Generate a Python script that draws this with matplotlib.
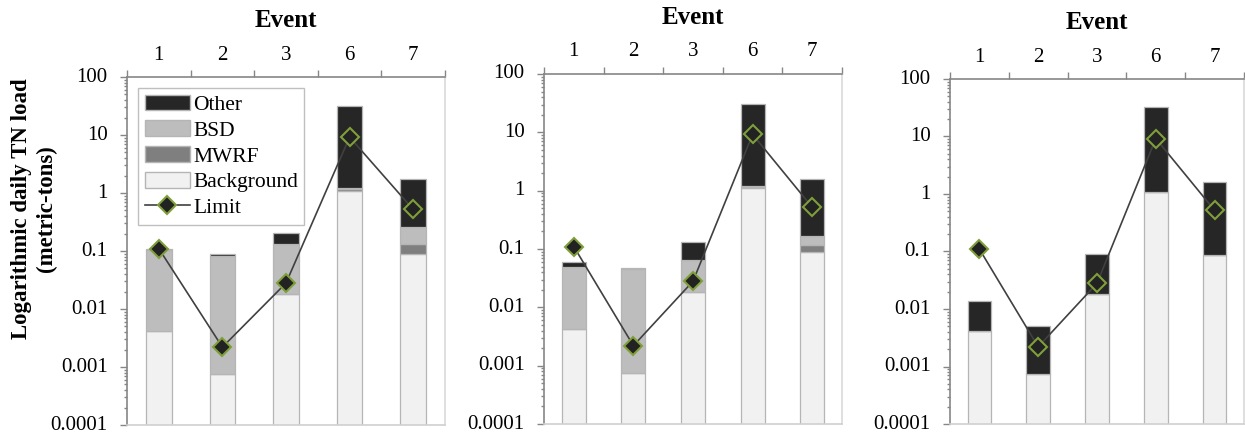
import numpy as np
import matplotlib
matplotlib.use("Agg")
import matplotlib.pyplot as plt
from matplotlib import ticker
from matplotlib.patches import Patch
from matplotlib.lines import Line2D

plt.rcParams['font.family'] = ['Liberation Serif', 'DejaVu Serif']

events = ['1', '2', '3', '6', '7']
limit = [0.11, 0.0022, 0.028, 9.2, 0.52]
background = [0.0042, 0.00075, 0.018, 1.1, 0.088]
y_ticks = [0.0001, 0.001, 0.01, 0.1, 1, 10, 100]
y_labels = ['0.0001', '0.001', '0.01', '0.1', '1', '10', '100']

# left scenario: all sources
mwrf_a = [0.0, 0.0, 0.0, 0.06, 0.044]
bsd_a = [0.101, 0.082, 0.113, 0.06, 0.123]
other_a = [0.005, 0.006, 0.077, 30.8, 1.5]

# middle scenario
mwrf_b = [0.0, 0.0, 0.0, 0.04, 0.028]
bsd_b = [0.044, 0.044, 0.047, 0.04, 0.053]
other_b = [0.0105, 0.003, 0.069, 29.8, 1.41]

# right scenario: no point sources
mwrf_c = [0.0, 0.0, 0.0, 0.0, 0.0]
bsd_c = [0.0, 0.0, 0.0, 0.0, 0.0]
other_c = [0.0096, 0.0044, 0.073, 31.4, 1.52]

scenarios = [(mwrf_a, bsd_a, other_a),
             (mwrf_b, bsd_b, other_b),
             (mwrf_c, bsd_c, other_c)]

c_other = '#262626'
c_bsd = '#bdbdbd'
c_mwrf = '#7f7f7f'
c_bg = '#f1f1f1'
c_edge = '#b5b5b5'
c_limit = '#404040'
c_green = '#7f9f3a'
c_axis = '#868686'

W, H = 1245, 440
fig = plt.figure(figsize=(W / 100, H / 100), dpi=100)

# axes boxes in pixels: left, top, right, bottom
boxes = [(127, 77, 445, 425), (544, 74, 842, 424), (950, 79, 1244, 424)]

x = np.arange(1, len(events) + 1)
for i, ((mwrf, bsd, other), (l, t, r, b)) in enumerate(zip(scenarios, boxes)):
    ax = fig.add_axes([l / W, (H - b) / H, (r - l) / W, (b - t) / H])
    bg = np.array(background)
    mw = np.array(mwrf)
    bs = np.array(bsd)
    ot = np.array(other)
    kw = dict(width=0.4, edgecolor=c_edge, linewidth=0.9, zorder=2)
    ax.bar(x, bg, bottom=1e-5, color=c_bg, **kw)
    ax.bar(x, mw, bottom=bg, color=c_mwrf, **kw)
    ax.bar(x, bs, bottom=bg + mw, color=c_bsd, **kw)
    ax.bar(x, ot, bottom=bg + mw + bs, color=c_other, **kw)
    ax.plot(x, limit, color=c_limit, lw=1.2, marker='D', ms=9.5,
            mfc='#222222', mec=c_green, mew=1.5, zorder=3)

    ax.set_yscale('log')
    ax.set_ylim(1e-4, 100)
    ax.set_xlim(0.5, 5.5)
    ax.set_yticks(y_ticks)
    ax.set_yticklabels(y_labels)
    ax.yaxis.set_minor_locator(ticker.LogLocator(base=10, subs=np.arange(2, 10), numticks=10))
    ax.yaxis.set_minor_formatter(ticker.NullFormatter())

    ax.xaxis.tick_top()
    ax.xaxis.set_label_position('top')
    ax.set_xticks(x)
    ax.set_xticklabels(events)
    ax.set_xticks(np.arange(0.5, 6.0, 1.0), minor=True)
    ax.tick_params(axis='x', which='major', length=0, pad=9, labelsize=15)
    ax.tick_params(axis='x', which='minor', length=5, color=c_axis, width=1)
    ax.tick_params(axis='y', which='major', length=5, color=c_axis, width=1,
                   labelsize=15, pad=9)
    ax.tick_params(axis='y', which='minor', length=2.5, color=c_axis, width=1)
    for lab in ax.get_yticklabels():
        lab.set_verticalalignment('center')
    ax.set_xlabel('Event', fontsize=18, fontweight='bold', labelpad=13)

    ax.spines['left'].set_color(c_axis)
    ax.spines['top'].set_color(c_axis)
    ax.spines['right'].set_color('#d9d9d9')
    ax.spines['bottom'].set_color('#d0d0d0')
    for s in ax.spines.values():
        s.set_linewidth(1.2)

    if i == 0:
        handles = [Patch(facecolor=c_other, edgecolor=c_edge, label='Other'),
                   Patch(facecolor=c_bsd, edgecolor=c_edge, label='BSD'),
                   Patch(facecolor=c_mwrf, edgecolor=c_edge, label='MWRF'),
                   Patch(facecolor=c_bg, edgecolor=c_edge, label='Background'),
                   Line2D([], [], color=c_limit, lw=1.2, marker='D', ms=9,
                          mfc='#222222', mec=c_green, mew=1.5, label='Limit')]
        leg = ax.legend(handles=handles, loc='upper left',
                        bbox_to_anchor=(0.035, 0.968), fontsize=15.5,
                        frameon=True, fancybox=False, edgecolor='#b0b0b0',
                        handlelength=2.1, handleheight=0.75, handletextpad=0.15,
                        labelspacing=0.25, borderpad=0.3, borderaxespad=0)
        leg.get_frame().set_linewidth(1.0)

fig.text(0.027, 0.525, 'Logarithmic daily TN load\n(metric-tons)',
         rotation=90, ha='center', va='center', fontsize=16.5,
         fontweight='bold', multialignment='center', linespacing=1.25)

fig.savefig('out.png', dpi=100)
